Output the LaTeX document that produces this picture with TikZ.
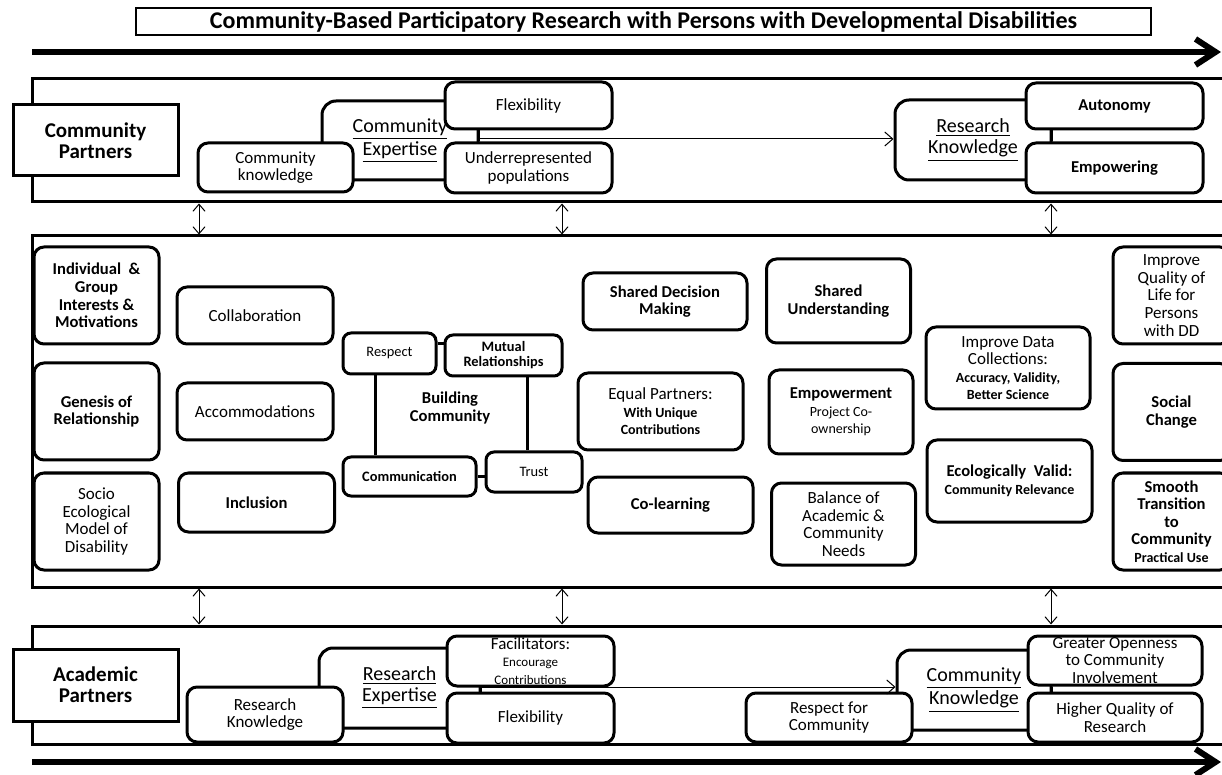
\documentclass[tikz,border=0pt]{standalone}
\usepackage{fontspec}
\setmainfont{Carlito}
\usetikzlibrary{arrows.meta}
\newcommand{\smalltxt}{\mdseries\fontsize{7pt}{7.5pt}\selectfont}
\newcommand{\smallbf}{\bfseries\fontsize{7pt}{7.5pt}\selectfont}
\newcommand{\tinytxt}{\mdseries\fontsize{6.5pt}{7pt}\selectfont}

\begin{document}
\begin{tikzpicture}[x=0.5pt,y=-0.5pt,
base/.style={
rounded corners=5pt,
draw,
line width=1.5pt,
fill=white,
align=center,
inner sep=0pt,
},
bg/.style={
base,
rounded corners=7pt,
},
sqbox/.style={
draw,
line width=1.5pt,
fill=white,
align=center,
inner sep=0pt,
},
band/.style={
draw,
line width=1.5pt,
inner sep=0pt,
minimum width=604pt,
},
reg/.style={
font={\fontsize{8.5pt}{8.8pt}\selectfont},
},
bld/.style={
font={\bfseries\fontsize{8.3pt}{8.8pt}\selectfont},
},
smr/.style={
font={\fontsize{7.2pt}{7.5pt}\selectfont},
},
smb/.style={
font={\bfseries\fontsize{7.2pt}{7.5pt}\selectfont},
},
big/.style={
font={\bfseries\fontsize{10.5pt}{10.5pt}\selectfont},
},
ttl/.style={
font={\bfseries\fontsize{12pt}{12pt}\selectfont},
},
ul/.style={
font={\fontsize{10pt}{10.5pt}\selectfont},
},
pill/.style={
minimum width=83.5pt,
minimum height=24.5pt,
},
col/.style={
minimum width=62.5pt,
minimum height=48.5pt,
},
wide/.style={
minimum width=78pt,
minimum height=28.5pt,
},
tall/.style={
minimum width=72pt,
minimum height=42pt,
},
link/.style={
line width=1.5pt,
},
flow/.style={
line width=0.5pt,
-{Straight Barb[length=4pt,width=7pt]},
},
dbl/.style={
line width=0.5pt,
{Straight Barb[length=3.5pt,width=6pt]}-{Straight Barb[length=3.5pt,width=6pt]},
},
bigarrow/.style={
line width=3pt,
-{Straight Barb[length=10pt,width=13pt]},
},
]
\useasboundingbox(0,0)rectangle(1222,775);
\clip(0,0)rectangle(1222,775);

\node[sqbox,ttl,line width=1pt,minimum width=507.5pt,minimum height=13.5pt](title)at(643.5,21.5){Community-Based Participatory Research with Persons with Developmental Disabilities};
\coordinate(ts)at(32,52);
\coordinate(te)at(1221,52);
\draw[bigarrow](ts)--(te);
\coordinate(bs)at(32,762);
\coordinate(be)at(1221,762);
\draw[bigarrow](bs)--(be);

% three bands
\node[band,minimum height=61.5pt](topband)at(636,140.5){};
\node[band,minimum height=175.5pt](midband)at(636,411.5){};
\node[band,minimum height=59pt](botband)at(636,685){};
\coordinate(a1)at(199,0);
\coordinate(a2)at(562,0);
\coordinate(a3)at(1051,0);
\foreach \c in {a1,a2,a3}{
\draw[dbl](topband.south -| \c)--(midband.north -| \c);
\draw[dbl](midband.south -| \c)--(botband.north -| \c);
}

% community partners
\node[bg,ul,minimum width=78pt,minimum height=39.5pt](cexp)at(400,140.5){\underline{Community}\\\underline{Expertise}};
\node[bg,ul,minimum width=78pt,minimum height=40pt](rkbg)at(973,140){\underline{Research}\\\underline{Knowledge}};
\node[sqbox,big,minimum width=82.5pt,minimum height=35.5pt](cp)at(95.5,140.5){Community\\Partners};
\node[base,reg,minimum width=77.5pt,minimum height=24.5pt](cpk)at(275.5,167.5){Community\\knowledge};
\node[base,reg,pill,minimum height=23.5pt](flex1)at(528.5,105.5){Flexibility};
\node[base,reg,pill,minimum height=25pt](under)at(528.5,168){Underrepresented\\populations};
\node[base,bld,pill,minimum width=88.5pt,minimum height=23pt](auto)at(1114.5,106){Autonomy};
\node[base,bld,pill,minimum width=88.5pt,minimum height=25pt](empw)at(1114.5,168){Empowering};
\coordinate(j1)at(478,139);
\draw[link](flex1.south -| j1)--(under.north -| j1);
\draw[flow](j1)--(rkbg.west |- j1);
\draw[link](auto.south -| a3)--(empw.north -| a3);

% middle band
\node[base,bld,col](igm)at(96.5,295.5){Individual~ \&\\Group\\Interests \&\\Motivations};
\node[base,bld,col](gen)at(96.5,411.5){Genesis of\\Relationship};
\node[base,reg,col](seco)at(96.5,521.5){Socio\\Ecological\\Model of\\Disability};
\node[base,reg,wide](coll)at(255,315.5){Collaboration};
\node[base,reg,wide](accom)at(255,411.5){Accommodations};
\node[base,bld,wide,minimum height=29.5pt](incl)at(256.5,502.5){Inclusion};
\node[base,smr,rounded corners=4pt,minimum width=46.5pt,minimum height=20.5pt](resp)at(389.5,353.5){Respect};
\node[base,smb,rounded corners=4pt,minimum width=58.5pt,minimum height=20.5pt](mutual)at(503.5,355.5){Mutual\\Relationships};
\node[base,smb,rounded corners=4pt,minimum width=66.5pt,minimum height=19.5pt](comm)at(409.5,476.5){Communication};
\node[base,smr,rounded corners=4pt,minimum width=48pt,minimum height=20pt](trust)at(534,472){Trust};
\node[bld,align=center](build)at(450,408){Building\\Community};
\draw[link]([yshift=5pt]resp.east)--([yshift=5pt]resp.east -| mutual.west);
\draw[link]([xshift=-7pt]resp.south)--([xshift=-7pt]resp.south |- comm.north);
\draw[link]([xshift=12pt]mutual.south)--([xshift=12pt]mutual.south |- trust.north);
\draw[link](comm.east)--(comm.east -| trust.west);
\node[base,bld,minimum width=82pt,minimum height=28.5pt](sdm)at(665,301.5){Shared Decision\\Making};
\node[base,reg,minimum width=82.5pt,minimum height=38.5pt](eqp)at(660.5,411.5){Equal Partners:\\{\smallbf With Unique}\\{\smallbf Contributions}};
\node[base,bld,minimum width=82.5pt,minimum height=28pt](colearn)at(670.5,505){Co-learning};
\node[base,bld,tall](su)at(838.5,301){Shared\\Understanding};
\node[base,bld,tall](emp)at(841,412){Empowerment\\{\smalltxt Project Co-}\\{\smalltxt ownership}};
\node[base,reg,tall,minimum height=41pt](bal)at(843.5,524){Balance of\\Academic \&\\Community\\Needs};
\node[base,reg,minimum width=82pt,minimum height=41pt](idc)at(1008,368){Improve Data\\Collections:\\{\smallbf Accuracy, Validity,}\\{\smallbf Better Science}};
\node[base,bld,minimum width=82.5pt,minimum height=41pt](eco)at(1009.5,481){Ecologically~~Valid:\\{\smallbf Community Relevance}};
\node[base,reg,col,minimum width=58.5pt](iql)at(1171.5,295.5){Improve\\Quality of\\Life for\\Persons\\with DD};
\node[base,bld,col,minimum width=58.5pt](soc)at(1171.5,412){Social\\Change};
\node[base,bld,col,minimum width=58.5pt](smooth)at(1171.5,521.5){Smooth\\Transition\\to\\Community\\{\smallbf Practical Use}};

% academic partners
\node[bg,ul,minimum width=80.5pt,minimum height=40pt](rebg)at(399.5,688){\underline{Research}\\\underline{Expertise}};
\node[bg,ul,minimum width=77pt,minimum height=40pt](ckbg)at(974,690){\underline{Community}\\\underline{Knowledge}};
\node[sqbox,big,minimum width=82.5pt,minimum height=36pt](ap)at(95.5,685){Academic\\Partners};
\node[base,reg,minimum width=78pt,minimum height=27.5pt](rkn)at(265,714.5){Research\\Knowledge};
\node[base,reg,pill,minimum height=25pt](facil)at(530.5,661){Facilitators:\\{\tinytxt Encourage}\\{\tinytxt Contributions}};
\node[base,reg,pill,minimum height=25pt](flex2)at(530.5,718){Flexibility};
\node[base,reg,pill,minimum width=83pt](rfc)at(829,717.5){Respect for\\Community};
\node[base,reg,pill,minimum width=87pt](greater)at(1115,660.5){Greater Openness\\to Community\\Involvement};
\node[base,reg,pill,minimum width=87pt](higher)at(1115,717.5){Higher Quality of\\Research};
\coordinate(j2)at(480,687);
\draw[link](facil.south -| j2)--(flex2.north -| j2);
\draw[flow](j2)--(ckbg.west |- j2);
\draw[link](greater.south -| a3)--(higher.north -| a3);

\end{tikzpicture}
\end{document}
